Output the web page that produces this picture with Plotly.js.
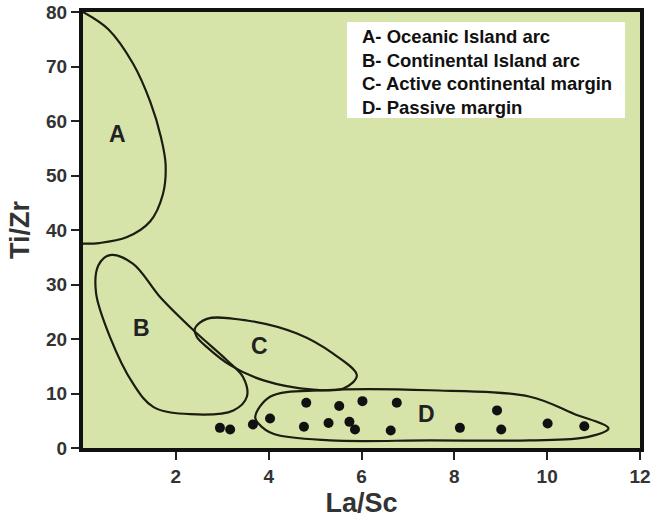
<!DOCTYPE html>
<html><head><meta charset="utf-8">
<script src="https://cdn.plot.ly/plotly-3.0.1.min.js"></script>
<style>html,body{margin:0;padding:0;background:#fff}#chart{width:655px;height:524px}</style>
</head><body><div id="chart"></div>
<script>
// Sample points (La/Sc, Ti/Zr)
var sampleLaSc = [2.95, 3.17, 3.66, 4.03, 4.81, 4.76, 5.52, 5.29, 6.02, 5.74, 5.86, 6.76, 6.63, 8.12, 8.92, 9.01, 10.01, 10.80];
var sampleTiZr = [3.7, 3.4, 4.3, 5.4, 8.3, 3.9, 7.7, 4.6, 8.6, 4.8, 3.4, 8.3, 3.2, 3.7, 6.9, 3.4, 4.5, 4.0];

// Field outlines
var fieldA_x = [0, 0.55, 1.08, 1.45, 1.68, 1.78, 1.72, 1.45, 0.95, 0.35, 0];
var fieldA_y = [80, 76.8, 70.5, 63.5, 57, 52, 46.5, 41.6, 38.7, 37.6, 37.5];
var fieldB_x = [0.58, 1.08, 1.66, 2.38, 3.1, 3.45, 3.53, 3.24, 2.31, 1.52, 1.08, 0.58, 0.28, 0.33, 0.58];
var fieldB_y = [35.4, 33.8, 27.7, 21.6, 16.1, 13, 9.4, 6.9, 6.2, 7.5, 11.8, 20.4, 28.5, 33.5, 35.4];
var fieldC_x = [2.41, 2.67, 3.53, 4.61, 5.39, 5.9, 5.61, 4.96, 3.89, 3.17, 2.67, 2.45, 2.41];
var fieldC_y = [21.9, 23.7, 23.4, 21.0, 17.3, 13.3, 10.9, 10.7, 12.4, 15.2, 18.5, 20.4, 21.9];
var fieldD_x = [11.32, 10.57, 9.63, 7.48, 5.18, 4.03, 3.71, 3.78, 4.10, 5.32, 7.48, 9.63, 10.86, 11.32];
var fieldD_y = [3.6, 6.3, 9.4, 10.6, 10.6, 9.4, 5.7, 4.5, 2.6, 1.4, 1.4, 1.4, 2.0, 3.6];

var fieldLabels = ['A', 'B', 'C', 'D'];
var fieldLabelX = [0.75, 1.27, 3.81, 7.41];
var fieldLabelY = [57.7, 22.1, 18.7, 6.2];

var legendLines = ['A- Oceanic Island arc', 'B- Continental Island arc', 'C- Active continental margin', 'D- Passive margin'];

var xTicks = [2, 4, 6, 8, 10, 12];
var yTicks = [0, 10, 20, 30, 40, 50, 60, 70, 80];

var lineStyle = {color: '#1c1c10', width: 2.2, shape: 'spline', smoothing: 1};
function field(x, y) {
  return {x: x, y: y, mode: 'lines', line: lineStyle, hoverinfo: 'skip', showlegend: false};
}
var traces = [
  field(fieldA_x, fieldA_y),
  field(fieldB_x, fieldB_y),
  field(fieldC_x, fieldC_y),
  field(fieldD_x, fieldD_y),
  {x: sampleLaSc, y: sampleTiZr, mode: 'markers', marker: {color: '#111', size: 10}, showlegend: false}
];

var annotations = [];
for (var i = 0; i < fieldLabels.length; i++) {
  annotations.push({x: fieldLabelX[i], y: fieldLabelY[i], xref: 'x', yref: 'y', text: '<b>' + fieldLabels[i] + '</b>',
    showarrow: false, font: {family: 'Liberation Sans, Arial', size: 23, color: '#222'}});
}
var legendY = [0.943, 0.889, 0.835, 0.781];
for (var j = 0; j < legendLines.length; j++) {
  annotations.push({x: 0.497, y: legendY[j], xref: 'paper', yref: 'paper', xanchor: 'left', yanchor: 'middle',
    text: '<b>' + legendLines[j] + '</b>', showarrow: false, font: {family: 'Liberation Sans, Arial', size: 18.5, color: '#111'}});
}

var layout = {
  width: 655, height: 524,
  margin: {l: 83, r: 15, t: 12, b: 76},
  paper_bgcolor: '#ffffff',
  plot_bgcolor: '#d7e4a9',
  showlegend: false,
  xaxis: {
    range: [0, 12], tickvals: xTicks, ticktext: xTicks.map(String),
    showgrid: false, zeroline: false, showline: true, mirror: true, linecolor: '#111', linewidth: 4,
    ticks: 'outside', ticklen: 8, tickwidth: 2, tickcolor: '#222',
    tickfont: {family: 'Liberation Sans, Arial', size: 19, color: '#333', weight: 'bold'},
    title: {text: '<b>La/Sc</b>', font: {family: 'Liberation Sans, Arial', size: 27, color: '#333'}, standoff: 8}
  },
  yaxis: {
    range: [0, 80], tickvals: yTicks, ticktext: yTicks.map(String),
    showgrid: false, zeroline: false, showline: true, mirror: true, linecolor: '#111', linewidth: 4,
    ticks: 'outside', ticklen: 8, tickwidth: 2, tickcolor: '#222',
    tickfont: {family: 'Liberation Sans, Arial', size: 19, color: '#333', weight: 'bold'},
    title: {text: '<b>Ti/Zr</b>', font: {family: 'Liberation Sans, Arial', size: 27, color: '#333'}, standoff: 10}
  },
  shapes: [{type: 'rect', xref: 'paper', yref: 'paper', x0: 0.474, x1: 0.973, y0: 0.757, y1: 0.977,
    fillcolor: '#ffffff', line: {width: 0}, layer: 'below'}],
  annotations: annotations
};

Plotly.newPlot('chart', traces, layout, {displayModeBar: false, staticPlot: true});
</script>
</body></html>
